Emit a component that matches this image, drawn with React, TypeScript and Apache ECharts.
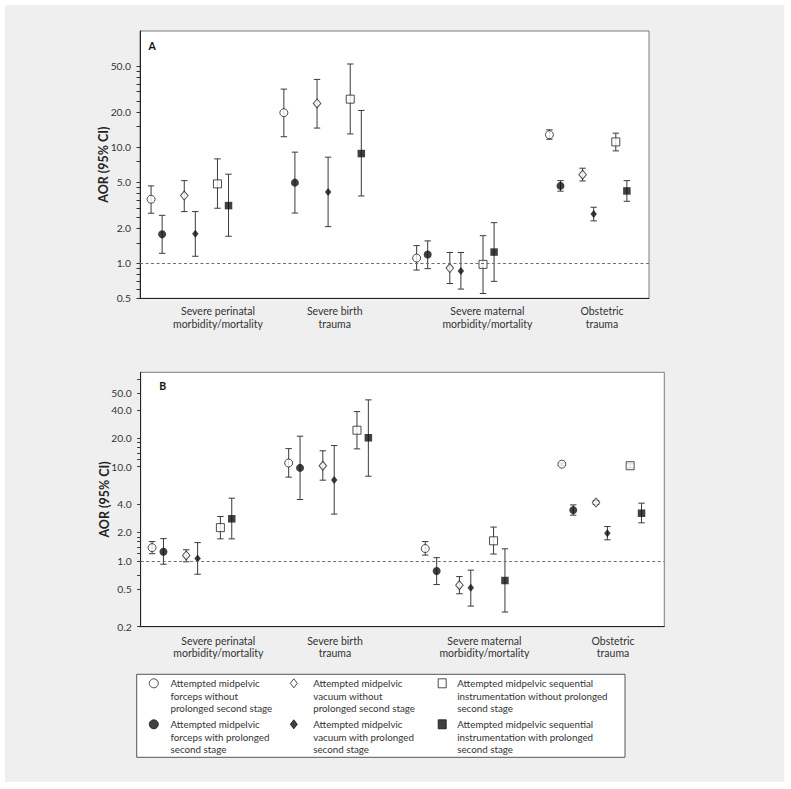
import React, { useEffect, useRef } from "react";
import * as echarts from "echarts";

// ---------- data ----------
const groupNames = [
  "Severe perinatal\nmorbidity/mortality",
  "Severe birth\ntrauma",
  "Severe maternal\nmorbidity/mortality",
  "Obstetric\ntrauma",
];

const seriesNames = [
  "Forceps without prolonged second stage",
  "Forceps with prolonged second stage",
  "Vacuum without prolonged second stage",
  "Vacuum with prolonged second stage",
  "Sequential without prolonged second stage",
  "Sequential with prolonged second stage",
];

const legendTexts = [
  "Attempted midpelvic\nforceps without\nprolonged second stage",
  "Attempted midpelvic\nforceps with prolonged\nsecond stage",
  "Attempted midpelvic\nvacuum without\nprolonged second stage",
  "Attempted midpelvic\nvacuum with prolonged\nsecond stage",
  "Attempted midpelvic sequential\ninstrumentation without prolonged\nsecond stage",
  "Attempted midpelvic sequential\ninstrumentation with prolonged\nsecond stage",
];

// [AOR, lower CI, upper CI] per outcome group
const forcepsWithoutA = [[3.56, 2.7, 4.64], [19.8, 12.3, 31.6], [1.11, 0.875, 1.42], [12.8, 11.7, 14.1]];
const forcepsWithA = [[1.78, 1.22, 2.59], [4.95, 2.71, 9.06], [1.19, 0.9, 1.56], [4.64, 4.18, 5.15]];
const vacuumWithoutA = [[3.83, 2.79, 5.15], [23.8, 14.6, 38.3], [0.91, 0.67, 1.24], [5.8, 5.12, 6.59]];
const vacuumWithA = [[1.8, 1.15, 2.79], [4.12, 2.07, 8.2], [0.86, 0.6, 1.24], [2.66, 2.32, 3.04]];
const sequentialWithoutA = [[4.83, 2.98, 7.93], [25.9, 13.0, 52.0], [0.98, 0.55, 1.73], [11.1, 9.29, 13.2]];
const sequentialWithA = [[3.14, 1.71, 5.85], [8.81, 3.8, 20.7], [1.25, 0.7, 2.24], [4.2, 3.42, 5.15]];

const forcepsWithoutB = [[1.38, 1.19, 1.6], [10.9, 7.72, 15.5], [1.35, 1.15, 1.6], [10.6, 10.3, 10.9]];
const forcepsWithB = [[1.25, 0.92, 1.72], [9.68, 4.47, 21.0], [0.78, 0.56, 1.08], [3.45, 3.05, 3.92]];
const vacuumWithoutB = [[1.14, 0.976, 1.31], [10.2, 7.17, 14.7], [0.552, 0.447, 0.68], [4.15, 3.95, 4.35]];
const vacuumWithB = [[1.06, 0.72, 1.56], [7.22, 3.13, 16.7], [0.517, 0.331, 0.796], [1.96, 1.67, 2.31]];
const sequentialWithoutB = [[2.25, 1.71, 2.95], [24.3, 15.4, 38.3], [1.63, 1.18, 2.28], [10.2, 9.7, 10.7]];
const sequentialWithB = [[2.79, 1.71, 4.62], [20.2, 7.9, 51.0], [0.618, 0.286, 1.34], [3.2, 2.53, 4.09]];

const panelAData = [forcepsWithoutA, forcepsWithA, vacuumWithoutA, vacuumWithA, sequentialWithoutA, sequentialWithA];
const panelBData = [forcepsWithoutB, forcepsWithB, vacuumWithoutB, vacuumWithB, sequentialWithoutB, sequentialWithB];

// tick labels
const yLabelValuesA = [0.5, 1, 2, 5, 10, 20, 50];
const yLabelTextsA = ["0.5", "1.0", "2.0", "5.0", "10.0", "20.0", "50.0"];
const yMinorTicksA = [0.6, 0.7, 0.8, 0.9, 1.5, 2.5, 3, 3.5, 4, 4.5, 7.5, 15, 25, 30, 35, 40, 45];
const yLabelValuesB = [0.2, 0.5, 1, 2, 4, 10, 20, 40, 60];
const yLabelTextsB = ["0.2", "0.5", "1.0", "2.0", "4.0", "10.0", "20.0", "40.0", "50.0"];
const yMinorTicksB = [0.7, 1.2, 1.4, 1.6, 1.8, 12, 14, 16, 18, 85];
const referenceAOR = 1;

// ---------- styling / layout ----------
const FONT = "Lato, 'Noto Sans', sans-serif";
const symbols = ["circle", "circle", "diamond", "diamond", "rect", "rect"];
const filled = [false, true, false, true, false, true];
const symbolSizes: any[] = [8, 8, [7.5, 9], [6.5, 8], 8, 7.5];
const slotOffsets = [0, 1, 3, 4, 6, 7];
const groupLabelPosA = [7.05, 17.6, 31.4, 41.75];
const groupLabelPosB = [6.82, 17.07, 30.2, 41.5];

const nearestText = (v: number, vals: number[], texts: string[]) => {
  let best = 0;
  for (let i = 1; i < vals.length; i++) {
    if (Math.abs(Math.log(vals[i]) - Math.log(v)) < Math.abs(Math.log(vals[best]) - Math.log(v))) best = i;
  }
  return texts[best];
};
const nearestGroup = (v: number, pos: number[]) => {
  let best = 0;
  for (let i = 1; i < pos.length; i++) if (Math.abs(pos[i] - v) < Math.abs(pos[best] - v)) best = i;
  return groupNames[best];
};

function buildPanelSeries(data: number[][][], idx: number) {
  const out: any[] = [];
  const bars: number[][] = [];
  data.forEach((rows, k) => {
    rows.forEach((r, g) => bars.push([1 + 12 * g + slotOffsets[k], r[1], r[2]]));
  });
  out.push({
    type: "custom",
    name: "CI" + idx,
    xAxisIndex: idx,
    yAxisIndex: idx,
    z: 2,
    silent: true,
    encode: { x: 0, y: [1, 2] },
    data: bars,
    renderItem: (params: any, api: any) => {
      const x = api.value(0);
      const lo = api.value(1);
      const hi = api.value(2);
      const p1 = api.coord([x, hi]);
      const p2 = api.coord([x, lo]);
      const w = 3.2;
      const style = { stroke: "#3a3a3a", lineWidth: 1 };
      return {
        type: "group",
        children: [
          { type: "line", shape: { x1: p1[0], y1: p1[1], x2: p2[0], y2: p2[1] }, style },
          { type: "line", shape: { x1: p1[0] - w, y1: p1[1], x2: p1[0] + w, y2: p1[1] }, style },
          { type: "line", shape: { x1: p2[0] - w, y1: p2[1], x2: p2[0] + w, y2: p2[1] }, style },
        ],
      };
    },
    markLine: {
      silent: true,
      symbol: ["none", "none"],
      label: { show: false },
      lineStyle: { color: "#6f6f6f", width: 1, type: [3, 2.5] },
      data: [{ yAxis: referenceAOR }],
    },
  });
  data.forEach((rows, k) => {
    out.push({
      type: "scatter",
      name: seriesNames[k],
      xAxisIndex: idx,
      yAxisIndex: idx,
      z: 3,
      symbol: symbols[k],
      symbolSize: symbolSizes[k],
      itemStyle: filled[k]
        ? { color: "#111", borderColor: "#111", borderWidth: 0 }
        : { color: "#fff", borderColor: "#222", borderWidth: 1 },
      data: rows.map((r, g) => [1 + 12 * g + slotOffsets[k], r[0]]),
    });
  });
  return out;
}

function xAxisFor(idx: number, pos: number[], margin: number) {
  return {
    type: "value",
    gridIndex: idx,
    min: 0,
    max: 46,
    axisLine: { show: true, onZero: false, lineStyle: { color: "#222", width: 1 } },
    axisTick: { show: false },
    splitLine: { show: false },
    axisLabel: {
      customValues: pos,
      formatter: (v: number) => nearestGroup(v, pos),
      fontSize: 10.5,
      lineHeight: 12.4,
      color: "#333",
      margin,
      fontFamily: FONT,
    },
  };
}

function yAxisFor(idx: number, min: number, labels: number[], texts: string[], minors: number[]) {
  return {
    type: "log",
    logBase: 10,
    gridIndex: idx,
    min,
    max: 100,
    name: "AOR (95% CI)",
    nameLocation: "middle",
    nameGap: 30,
    nameMoveOverlap: false,
    nameTextStyle: { fontWeight: "bold", fontSize: 12.5, color: "#222", fontFamily: FONT },
    axisLine: { show: true, lineStyle: { color: "#222", width: 1 } },
    axisTick: {
      show: true,
      inside: false,
      length: 3.5,
      customValues: labels.concat(minors),
      lineStyle: { color: "#333", width: 1 },
    },
    minorTick: { show: false },
    splitLine: { show: false },
    axisLabel: {
      customValues: labels,
      formatter: (v: number) => nearestText(v, labels, texts),
      fontSize: 10.3,
      color: "#333",
      margin: 9,
      fontFamily: FONT,
    },
  };
}

function legendFor(names: string[], icon: string, left: number, iw: number, padLeft: number) {
  return {
    orient: "vertical",
    left,
    top: 646.8,
    padding: 0,
    itemGap: -22,
    itemWidth: iw,
    itemHeight: 9,
    symbolKeepAspect: false,
    data: names.map((n) => ({ name: n, icon })),
    formatter: (n: string) => "\n\n" + legendTexts[seriesNames.indexOf(n)],
    itemStyle: { borderWidth: 1 },
    textStyle: {
      fontSize: 9.8,
      lineHeight: 12.6,
      color: "#333",
      fontFamily: FONT,
      padding: [0, 0, 0, padLeft],
    },
  };
}

export default function App() {
  const ref = useRef<HTMLDivElement>(null);
  useEffect(() => {
    if (!ref.current) return;
    const chart = echarts.init(ref.current, undefined, { renderer: "svg" });
    const option: any = {
      animation: false,
      backgroundColor: "#efefef",
      textStyle: { fontFamily: FONT },
      grid: [
        {
          left: 135, top: 26, width: 509, height: 267.3,
          show: true, backgroundColor: "#fff", borderColor: "#7d7d7d", borderWidth: 1,
          containLabel: false, outerBoundsMode: "none",
        },
        {
          left: 135.7, top: 367.3, width: 523.6, height: 254.4,
          show: true, backgroundColor: "#fff", borderColor: "#7d7d7d", borderWidth: 1,
          containLabel: false, outerBoundsMode: "none",
        },
      ],
      xAxis: [xAxisFor(0, groupLabelPosA, 7), xAxisFor(1, groupLabelPosB, 8)],
      yAxis: [
        yAxisFor(0, 0.5, yLabelValuesA, yLabelTextsA, yMinorTicksA),
        yAxisFor(1, 0.2, yLabelValuesB, yLabelTextsB, yMinorTicksB),
      ],
      legend: [
        legendFor([seriesNames[0], seriesNames[1]], "circle", 143.8, 9, 7.2),
        legendFor([seriesNames[2], seriesNames[3]], "diamond", 284.8, 7, 10.9),
        legendFor([seriesNames[4], seriesNames[5]], "rect", 432.7, 8, 6),
      ],
      graphic: [
        {
          type: "rect",
          z: 0,
          silent: true,
          shape: { x: 131.7, y: 669.3, width: 488.3, height: 83 },
          style: { fill: "#fff", stroke: "#555", lineWidth: 1 },
        },
        {
          type: "text",
          z: 10,
          x: 143.5,
          y: 41.3,
          style: { text: "A", fontWeight: "bold", fontSize: 10.5, fill: "#111", verticalAlign: "middle", fontFamily: FONT },
        },
        {
          type: "text",
          z: 10,
          x: 154.3,
          y: 380.5,
          style: { text: "B", fontWeight: "bold", fontSize: 10.5, fill: "#111", verticalAlign: "middle", fontFamily: FONT },
        },
      ],
      series: [...buildPanelSeries(panelAData, 0), ...buildPanelSeries(panelBData, 1)],
    };
    chart.setOption(option);
    return () => chart.dispose();
  }, []);
  return (
    <div
      ref={ref}
      style={{ position: "fixed", left: 5, top: 5, width: 779, height: 777, background: "#efefef" }}
    />
  );
}
